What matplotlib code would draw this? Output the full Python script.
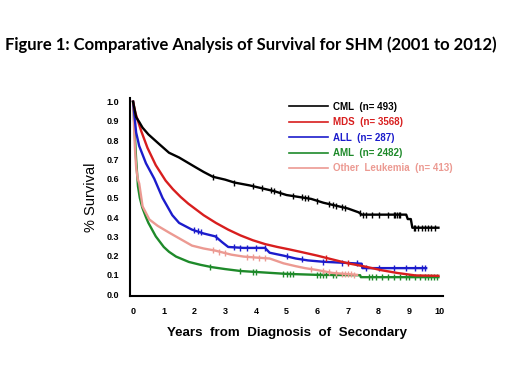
import matplotlib
matplotlib.use("Agg")
import matplotlib.pyplot as plt
import numpy as np

# Kaplan-Meier curves (years, survival)
cml_t = [0, 0.1, 0.2, 0.31, 0.5, 0.85, 1.17, 1.5, 2.03, 2.3, 2.6, 3.0, 3.3, 3.8, 4.2,
         4.6, 5.0, 5.4, 5.8, 6.2, 6.6, 7.0, 7.35, 7.45, 8.9, 8.95, 9.05, 9.1, 9.95]
cml_s = [1.0, 0.92, 0.895, 0.865, 0.83, 0.78, 0.735, 0.71, 0.66, 0.635, 0.61, 0.595,
         0.58, 0.565, 0.55, 0.535, 0.515, 0.505, 0.495, 0.475, 0.46, 0.445, 0.425, 0.413, 0.413,
         0.39, 0.39, 0.345, 0.345]
cml_cens = [2.6, 3.3, 3.9, 4.2, 4.5, 4.6, 4.8, 5.2, 5.5, 5.6, 5.7, 6.0, 6.4, 6.5, 6.6, 6.8, 6.9,
            7.4, 7.5, 7.6, 7.8, 8.0, 8.3, 8.5, 8.55, 8.6, 8.65, 8.7, 9.15, 9.2, 9.3, 9.4, 9.5,
            9.6, 9.7, 9.85]

mds_t = [0, 0.08, 0.12, 0.26, 0.47, 0.74, 1.06, 1.3, 1.55, 1.8, 2.05, 2.3, 2.7,
         3.1, 3.5, 3.9, 4.3, 4.7, 5.1, 5.5, 6.0, 6.5, 7.0, 7.5, 8.1, 8.6, 9.2, 9.95]
mds_s = [1.0, 0.94, 0.92, 0.85, 0.76, 0.67, 0.59, 0.545, 0.505, 0.47, 0.44, 0.41, 0.37,
         0.335, 0.305, 0.28, 0.26, 0.245, 0.232, 0.218, 0.2, 0.18, 0.16, 0.145,
         0.124, 0.11, 0.097, 0.095]
mds_cens = [6.3, 7.0]

all_t = [0, 0.1, 0.2, 0.42, 0.69, 0.96, 1.28, 1.5, 1.92, 2.3, 2.68, 2.9, 3.1, 3.6, 4.3, 4.45,
         4.9, 5.3, 5.7, 6.2, 7.45, 7.47, 9.55]
all_s = [1.0, 0.84, 0.77, 0.68, 0.6, 0.5, 0.41, 0.37, 0.335, 0.315, 0.3, 0.27, 0.245, 0.24,
         0.24, 0.215, 0.2, 0.185, 0.175, 0.168, 0.158, 0.135, 0.135]
all_cens = [2.0, 2.1, 2.2, 2.7, 3.3, 3.5, 3.7, 4.0, 4.3, 5.0, 5.5, 6.2, 6.8, 7.3, 7.6, 8.0,
            8.5, 8.9, 9.2, 9.4, 9.5]

aml_t = [0, 0.1, 0.16, 0.22, 0.3, 0.42, 0.5, 0.74, 1.0, 1.17, 1.4, 1.82, 2.2, 2.57, 3.0,
         3.5, 4.0, 4.5, 5.0, 6.0, 7.4, 7.42, 9.95]
aml_s = [1.0, 0.70, 0.56, 0.50, 0.45, 0.40, 0.37, 0.30, 0.245, 0.22, 0.195, 0.167, 0.152,
         0.14, 0.13, 0.12, 0.115, 0.11, 0.105, 0.1, 0.098, 0.088, 0.088]
aml_cens = [2.5, 3.5, 3.9, 4.0, 4.9, 5.0, 5.1, 5.2, 6.0, 6.1, 6.2, 6.3, 6.5, 6.6, 7.7, 7.8, 7.9,
            8.1, 8.3, 8.5, 8.7, 8.9, 9.0, 9.2, 9.35, 9.5, 9.6, 9.7, 9.8, 9.9]

oth_t = [0, 0.03, 0.06, 0.1, 0.15, 0.2, 0.31, 0.53, 0.8, 1.17, 1.5, 1.92, 2.3, 2.68,
         3.2, 3.6, 4.0, 4.45, 4.9, 5.3, 5.6, 6.0, 6.5, 7.3]
oth_s = [1.0, 0.88, 0.76, 0.66, 0.6, 0.575, 0.456, 0.388, 0.355, 0.32, 0.29, 0.252, 0.237, 0.226,
         0.205, 0.195, 0.19, 0.185, 0.16, 0.145, 0.135, 0.125, 0.11, 0.10]
oth_cens = [2.6, 2.8, 3.0, 3.7, 3.9, 4.1, 4.3, 5.8, 6.2, 6.4, 6.6, 6.8, 6.9, 7.0, 7.1, 7.2]

labels = ["CML  (n= 493)", "MDS  (n= 3568)", "ALL  (n= 287)", "AML  (n= 2482)",
          "Other  Leukemia  (n= 413)"]
colors = ["black", "#d81e1e", "#1c1ccc", "#1e8a2a", "#ec9a92"]

curves = [(cml_t, cml_s, cml_cens), (mds_t, mds_s, mds_cens), (all_t, all_s, all_cens),
          (aml_t, aml_s, aml_cens), (oth_t, oth_s, oth_cens)]
zorders = [5, 4, 3, 2, 2.5]

fig = plt.figure(figsize=(5.2, 3.9), dpi=100)
ax = fig.add_axes([0.25, 0.241, 0.602, 0.508])

for i in range(5):
    t, s, cens = curves[i]
    ax.plot(t, s, color=colors[i], lw=1.7, label=labels[i], zorder=zorders[i])
    ax.plot(cens, np.interp(cens, t, s), ls="none", marker="|", ms=5, mew=1,
            color=colors[i], zorder=zorders[i])

ax.set_xlim(-0.1, 10.1)
ax.set_ylim(-0.01, 1.02)
ax.set_xticks(range(0, 11))
ax.set_yticks(np.arange(0, 1.01, 0.1))
ax.set_yticklabels([f"{v:.1f}" for v in np.arange(0, 1.01, 0.1)])
ax.spines["top"].set_visible(False)
ax.spines["right"].set_visible(False)
ax.spines["left"].set_linewidth(1.5)
ax.spines["bottom"].set_linewidth(1.5)
ax.tick_params(length=0, pad=8)
for lab in ax.get_xticklabels() + ax.get_yticklabels():
    lab.set_fontsize(6.5)
    lab.set_fontweight("bold")
    lab.set_family("Liberation Sans")

ax.set_xlabel("Years  from  Diagnosis  of  Secondary", fontsize=9.6, fontweight="bold",
              family="Liberation Sans", labelpad=8)
ax.set_ylabel("% Survival", fontsize=10.5, family="Liberation Sans", labelpad=6)

leg = ax.legend(loc="upper left", bbox_to_anchor=(284 / 520, 1 - 97 / 390),
                bbox_transform=fig.transFigure, frameon=False, borderpad=0,
                handlelength=4.0, handletextpad=0.5, labelspacing=0.55,
                prop={"family": "Liberation Sans", "size": 7, "weight": "bold"},
                labelcolor="linecolor")
for h in leg.get_lines():
    h.set_linewidth(1.2)

fig.text(5 / 520, 1 - 45 / 390, "Figure 1: Comparative Analysis of Survival for SHM (2001 to 2012)",
         fontsize=12, fontweight="bold", family="Lato", va="center", ha="left")

fig.savefig("out.png", dpi=100)
